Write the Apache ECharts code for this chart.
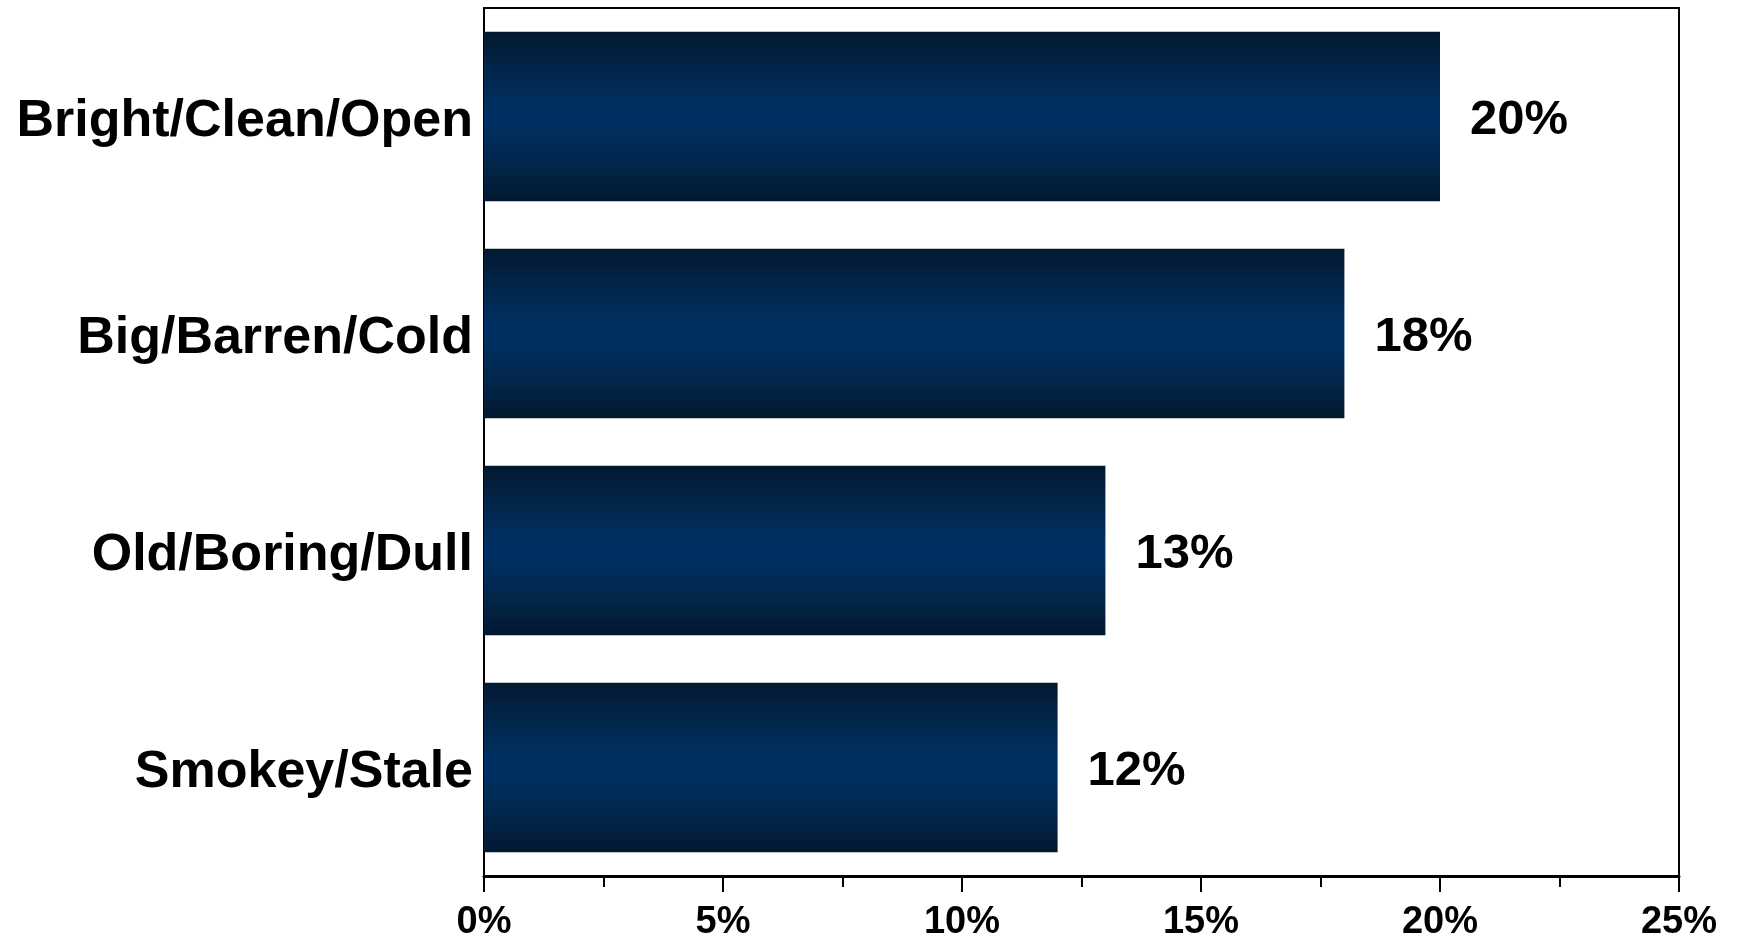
<!DOCTYPE html>
<html>
<head>
<meta charset="utf-8">
<script src="https://cdn.jsdelivr.net/npm/echarts@6/dist/echarts.min.js"></script>
<style>
html,body{margin:0;padding:0;background:#fff;}
#chart{width:1739px;height:938px;}
</style>
</head>
<body>
<div id="chart"></div>
<script>
const categories = ["Bright/Clean/Open", "Big/Barren/Cold", "Old/Boring/Dull", "Smokey/Stale"];
const values = [20, 18, 13, 12];
const xTicks = [0, 5, 10, 15, 20, 25];

const chart = echarts.init(document.getElementById('chart'));
const font = '"Liberation Sans", Arial, sans-serif';
chart.setOption({
  backgroundColor: '#ffffff',
  animation: false,
  grid: {
    left: 484, right: 60, top: 8, bottom: 62,
    outerBoundsMode: 'none', containLabel: false,
    show: true, borderColor: '#000', borderWidth: 2, backgroundColor: 'transparent'
  },
  xAxis: {
    type: 'value',
    min: xTicks[0], max: xTicks[xTicks.length - 1], interval: 5,
    axisLine: { show: true, lineStyle: { color: '#000', width: 3 } },
    axisTick: { show: true, length: 16, lineStyle: { color: '#000', width: 2 } },
    minorTick: { show: true, splitNumber: 2, length: 11, lineStyle: { color: '#000', width: 2 } },
    splitLine: { show: false },
    axisLabel: {
      formatter: v => v + '%', color: '#000', fontFamily: font, fontWeight: 'bold',
      fontSize: 38, margin: 28
    }
  },
  yAxis: {
    type: 'category',
    data: categories,
    inverse: true,
    axisLine: { show: true, lineStyle: { color: '#000', width: 2 } },
    axisTick: { show: false },
    axisLabel: {
      color: '#000', fontFamily: font, fontWeight: 'bold', fontSize: 52, margin: 11,
      formatter: v => '{t|' + v + '}',
      rich: { t: { color: '#000', fontFamily: font, fontWeight: 'bold', fontSize: 52, padding: [10, 0, 0, 0] } }
    }
  },
  series: [{
    type: 'bar',
    data: values,
    barCategoryGap: '22%',
    itemStyle: {
      color: new echarts.graphic.LinearGradient(0, 0, 0, 1, [
        { offset: 0, color: '#031830' },
        { offset: 0.2, color: '#022548' },
        { offset: 0.45, color: '#003062' },
        { offset: 0.55, color: '#003062' },
        { offset: 0.8, color: '#022548' },
        { offset: 1, color: '#031830' }
      ])
    },
    label: {
      show: true, position: 'right', distance: 30, offset: [0, 4],
      formatter: p => p.value + '%',
      color: '#000', fontFamily: font, fontWeight: 'bold', fontSize: 49
    }
  }]
});
</script>
</body>
</html>
